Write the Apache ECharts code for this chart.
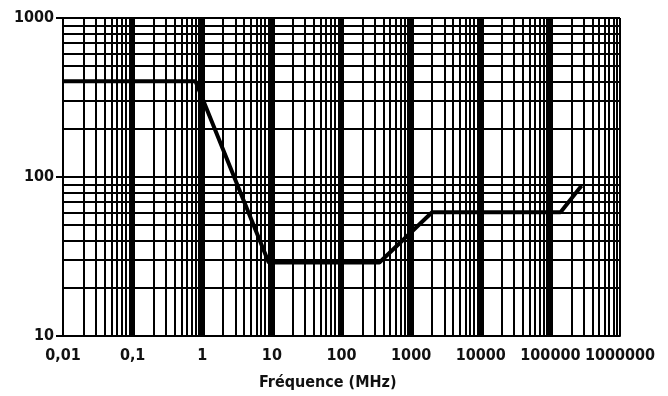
<!DOCTYPE html>
<html>
<head>
<meta charset="utf-8">
<script src="https://cdn.jsdelivr.net/npm/echarts@6/dist/echarts.min.js"></script>
<style>html,body{margin:0;padding:0;background:#fff;}#c{width:668px;height:396px;}</style>
</head>
<body>
<div id="c"></div>
<script>
// Data
var freq  = [0.01, 0.8, 9, 350, 2000, 140000, 280000];
var level = [400, 400, 29, 29, 60, 60, 88];

var xTickLabels = ['0,01', '0,1', '1', '10', '100', '1000', '10000', '100000', '1000000'];
var yTickLabels = ['10', '100', '1000'];
var xAxisTitle = 'Fréquence (MHz)';

var xDecades = [0.01, 0.1, 1, 10, 100, 1000, 10000, 100000];
var yDecades = [10, 100];
var multipliers = [2, 3, 4, 5, 6, 7, 8, 9];
var xRightEdge = 1000000;

var FONT = "'DejaVu Sans Condensed', 'DejaVu Sans', sans-serif";

var vMinor = [];
xDecades.forEach(function (d) { multipliers.forEach(function (m) { vMinor.push({ xAxis: +(d * m).toPrecision(6) }); }); });
vMinor.push({ xAxis: xRightEdge });
var hMinor = [];
yDecades.forEach(function (d) { multipliers.forEach(function (m) { hMinor.push({ yAxis: d * m }); }); });

var chart = echarts.init(document.getElementById('c'), null, { renderer: 'canvas' });
chart.setOption({
  animation: false,
  backgroundColor: '#fff',
  title: {
    text: xAxisTitle,
    left: 254, top: 370,
    textStyle: { fontFamily: FONT, fontSize: 16, fontWeight: 'bold', color: '#111' }
  },
  grid: { left: 63, right: 48, top: 18, bottom: 60 },
  xAxis: {
    type: 'log', logBase: 10, min: 0.01, max: 1000000,
    axisLine: { show: true, onZero: false, lineStyle: { color: '#000', width: 2 } },
    axisTick: { show: false },
    axisLabel: {
      margin: 12, color: '#111', fontFamily: FONT, fontSize: 16, fontWeight: 'bold',
      formatter: function (v) { return xTickLabels[Math.round(Math.log10(v)) + 2]; }
    },
    splitLine: { show: true, showMinLine: false, showMaxLine: false, lineStyle: { color: '#000', width: 5 } }
  },
  yAxis: {
    type: 'log', logBase: 10, min: 10, max: 1000,
    axisLine: { show: true, lineStyle: { color: '#000', width: 2 } },
    axisTick: { show: true, length: 7, lineStyle: { color: '#000', width: 2 } },
    axisLabel: {
      margin: 9, color: '#111', fontFamily: FONT, fontSize: 16, fontWeight: 'bold',
      formatter: function (v) { return yTickLabels[Math.round(Math.log10(v)) - 1]; }
    },
    splitLine: { show: true, lineStyle: { color: '#000', width: 2 } }
  },
  series: [
    {
      type: 'line', data: [], z: 1, silent: true,
      markLine: {
        silent: true, symbol: ['none', 'none'], label: { show: false },
        lineStyle: { color: '#000', width: 2, type: 'solid' },
        data: vMinor.concat(hMinor)
      }
    },
    {
      type: 'line', z: 5,
      data: freq.map(function (f, i) { return [f, level[i]]; }),
      showSymbol: false, symbol: 'none',
      lineStyle: { color: '#000', width: 4 }
    }
  ]
});
</script>
</body>
</html>
